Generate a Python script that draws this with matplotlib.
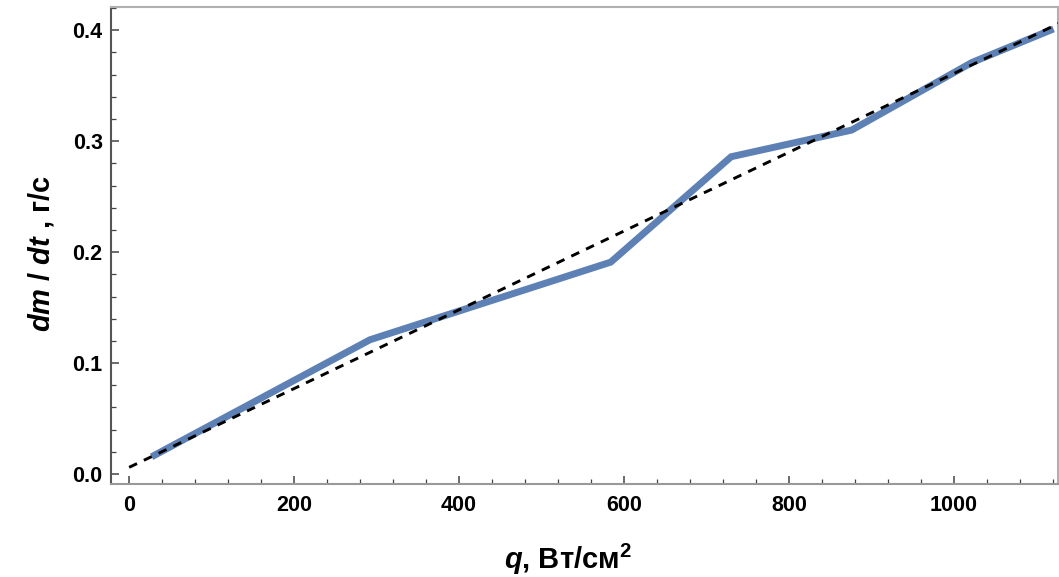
import matplotlib
matplotlib.use("Agg")
import matplotlib.pyplot as plt
import numpy as np
from matplotlib.ticker import MultipleLocator

# measured data (blue line)
q = [31, 292, 584, 730, 876, 1022, 1117]
dmdt = [0.017, 0.121, 0.191, 0.286, 0.310, 0.371, 0.400]

# linear fit (dashed)
fit_intercept = 0.006
fit_slope = 0.000355
fit_q = [0, 1130]

plt.rcParams['font.family'] = ['Liberation Sans', 'DejaVu Sans']
plt.rcParams['font.weight'] = 'bold'
plt.rcParams['mathtext.fontset'] = 'custom'
plt.rcParams['mathtext.it'] = 'Liberation Sans:italic:bold'
plt.rcParams['mathtext.rm'] = 'Liberation Sans:bold'
plt.rcParams['mathtext.bf'] = 'Liberation Sans:bold'

fig = plt.figure(figsize=(10.59, 5.77), dpi=100)
ax = fig.add_axes([0.1048, 0.1612, 0.894, 0.8267])

ax.plot(q, dmdt, color='#5E81B5', lw=5, solid_joinstyle='miter', zorder=2)
fit_y = [fit_intercept + fit_slope * v for v in fit_q]
ax.plot(fit_q, fit_y, color='black', lw=2.1, ls=(0, (3, 2.6)), zorder=3)

ax.set_xlim(-22, 1126)
ax.set_ylim(-0.009, 0.421)

ax.xaxis.set_major_locator(MultipleLocator(200))
ax.xaxis.set_minor_locator(MultipleLocator(40))
ax.yaxis.set_major_locator(MultipleLocator(0.1))
ax.yaxis.set_minor_locator(MultipleLocator(0.02))
ax.yaxis.set_major_formatter(matplotlib.ticker.FormatStrFormatter('%.1f'))

ax.tick_params(which='both', direction='in', colors='#444444', labelcolor='black')
ax.tick_params(which='major', length=6, width=1.1, labelsize=15.5)
ax.tick_params(which='minor', length=3.5, width=0.9)
ax.tick_params(axis='x', which='major', pad=8)
ax.tick_params(axis='y', which='major', pad=6)

ax.spines['left'].set_color('#555555')
ax.spines['bottom'].set_color('#999999')
ax.spines['top'].set_color('#b0b0b0')
ax.spines['right'].set_color('#b0b0b0')
for s in ax.spines.values():
    s.set_linewidth(1.5)

ax.set_xlabel(r'$q$, Вт/см$^{\mathbf{2}}$', fontsize=21, fontweight='bold')
ax.xaxis.set_label_coords(0.483, -0.122)
ax.set_ylabel(r'$dm$ / $dt$ , г/с', fontsize=21, fontweight='bold')
ax.yaxis.set_label_coords(-0.058, 0.484)

fig.savefig('out.png', dpi=100)
